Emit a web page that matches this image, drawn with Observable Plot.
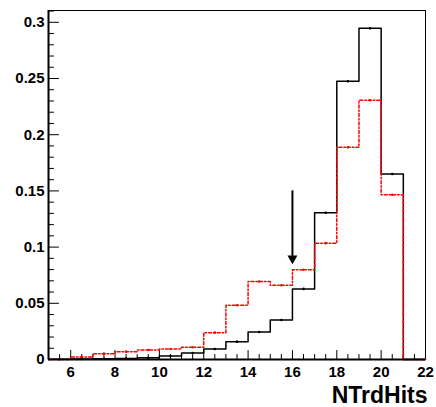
<!DOCTYPE html>
<html>
<head>
<meta charset="utf-8">
<script src="https://cdn.jsdelivr.net/npm/d3@7"></script>
<script src="https://cdn.jsdelivr.net/npm/@observablehq/plot@0.6"></script>
<style>
  html, body { margin: 0; padding: 0; background: white; }
  svg text { font-weight: bold; font-family: 'Liberation Sans', Arial, Helvetica, sans-serif; }
</style>
</head>
<body>
<div id="chart"></div>
<script>
// Bin edges (NTrdHits), width 1, from 5 to 22
const binEdges = [5, 6, 7, 8, 9, 10, 11, 12, 13, 14, 15, 16, 17, 18, 19, 20, 21, 22];
// Black (solid) histogram values per bin
const blackValues = [0.0002, 0.0004, 0.0006, 0.0009, 0.0016, 0.0031, 0.0058, 0.0094, 0.0159, 0.0245, 0.0352, 0.0628, 0.1306, 0.2476, 0.2946, 0.1650, 0];
// Red (dotted) histogram values per bin
const redValues = [0.0, 0.0022, 0.0052, 0.0070, 0.0085, 0.0094, 0.0109, 0.0239, 0.0483, 0.0694, 0.0661, 0.0798, 0.1035, 0.1888, 0.2307, 0.1466, 0];
// Axis ticks
const xMajorTicks = [6, 8, 10, 12, 14, 16, 18, 20, 22];
const xMinorTicks = d3.range(5.5, 22, 0.5).filter(v => v % 2 !== 0);
const yMajorTicks = [0, 0.05, 0.1, 0.15, 0.2, 0.25, 0.3];
const yTickLabels = ["0", "0.05", "0.1", "0.15", "0.2", "0.25", "0.3"];
const yMinorTicks = d3.range(0.01, 0.311, 0.01).filter(v => Math.abs(v * 20 - Math.round(v * 20)) > 1e-6);
const xLabel = ["NTrdHits"];
// Cut arrow: x position, start value, tip value
const cutArrow = [{x: 16, yStart: 0.150, yTip: 0.0848}];
const xDomain = [5, 22];
const yDomain = [0, 0.3105];

function stepPoints(values) {
  const pts = [{x: binEdges[0], y: 0}];
  values.forEach((v, i) => pts.push({x: binEdges[i], y: v}));
  pts.push({x: binEdges[binEdges.length - 1], y: values[values.length - 1]});
  return pts;
}
function centers(values) {
  return values.map((v, i) => ({x: (binEdges[i] + binEdges[i + 1]) / 2, y: v})).filter(d => d.y > 0);
}
const tickShape = {draw(ctx, l) { ctx.moveTo(0, 0); ctx.lineTo(0, -l); }};

const chart = Plot.plot({
  width: 436,
  height: 407,
  marginLeft: 48,
  marginRight: 11,
  marginTop: 10,
  marginBottom: 48,
  style: {fontFamily: "'Liberation Sans', Arial, Helvetica, sans-serif", fontWeight: "bold", fontSize: "15px", color: "black", background: "white"},
  x: {domain: xDomain},
  y: {domain: yDomain},
  marks: [
    Plot.frame({stroke: "black", strokeWidth: 1}),
    Plot.axisX(xMajorTicks, {tickSize: 0, tickPadding: 7, label: null, fontSize: 15, fontWeight: "bold", fill: "black"}),
    Plot.axisY(yMajorTicks, {tickSize: 0, tickPadding: 4, label: null, tickFormat: (d, i) => yTickLabels[i], fontSize: 15, fontWeight: "bold", fill: "black"}),
    // ticks pointing inward
    Plot.vector(xMajorTicks, {x: d => d, y: () => 0, length: 9, anchor: "start", shape: tickShape, stroke: "black", strokeWidth: 1}),
    Plot.vector(xMinorTicks, {x: d => d, y: () => 0, length: 5, anchor: "start", shape: tickShape, stroke: "black", strokeWidth: 1}),
    Plot.vector(yMajorTicks, {x: () => xDomain[0], y: d => d, length: 10, rotate: 90, anchor: "start", shape: tickShape, stroke: "black", strokeWidth: 1}),
    Plot.vector(yMinorTicks, {x: () => xDomain[0], y: d => d, length: 5, rotate: 90, anchor: "start", shape: tickShape, stroke: "black", strokeWidth: 1}),
    // histograms
    Plot.line(stepPoints(blackValues), {x: "x", y: "y", curve: "step-after", stroke: "black", strokeWidth: 1.5}),
    Plot.dot(centers(blackValues), {x: "x", y: "y", r: 1.3, fill: "black"}),
    Plot.line(stepPoints(redValues), {x: "x", y: "y", curve: "step-after", stroke: "#ff0000", strokeWidth: 1.5, strokeDasharray: "3,2,1.5,2"}),
    Plot.dot(centers(redValues), {x: "x", y: "y", r: 1.3, fill: "#ff0000"}),
    // axis lines (thicker)
    Plot.ruleX([xDomain[0]], {stroke: "black", strokeWidth: 2}),
    Plot.ruleY([0], {x1: xDomain[0], x2: xDomain[1], stroke: "black", strokeWidth: 2}),
    // cut arrow
    Plot.ruleX(cutArrow, {x: "x", y1: "yStart", y2: "yTip", stroke: "black", strokeWidth: 2, insetBottom: 5}),
    Plot.dot(cutArrow, {x: "x", y: "yTip", symbol: "triangle", rotate: 180, r: 3.7, fill: "black", stroke: "none", dy: -5.8}),
    // x-axis title
    Plot.text(xLabel, {text: d => d, frameAnchor: "bottom-right", textAnchor: "end", lineAnchor: "bottom", dx: 2, dy: 43, fontSize: 23, fontWeight: "bold", fill: "black"})
  ]
});
document.getElementById("chart").appendChild(chart);
</script>
</body>
</html>
